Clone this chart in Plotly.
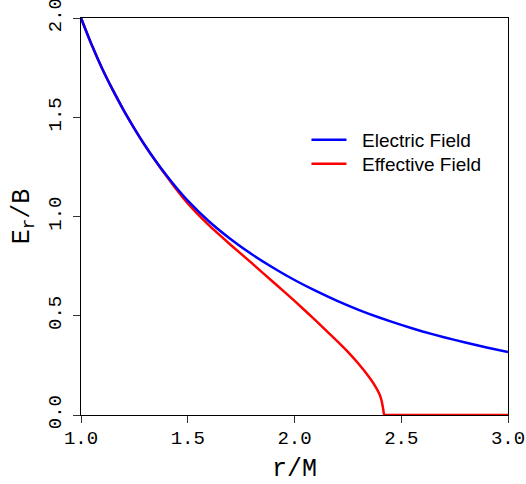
import plotly.graph_objects as go

# r/M sample positions and field values
r_electric = [1.0, 1.05, 1.1, 1.15, 1.2, 1.25, 1.3, 1.35, 1.4, 1.45, 1.5, 1.6, 1.7, 1.8,
              1.9, 2.0, 2.1, 2.2, 2.3, 2.4, 2.5, 2.6, 2.7, 2.8, 2.9, 3.0]
e_electric = [2.000, 1.865, 1.743, 1.635, 1.535, 1.443, 1.358, 1.280, 1.208, 1.141, 1.080,
              0.975, 0.887, 0.810, 0.742, 0.680, 0.625, 0.575, 0.530, 0.490, 0.454, 0.421,
              0.392, 0.365, 0.340, 0.317]

r_effective = [1.0, 1.05, 1.1, 1.15, 1.2, 1.25, 1.3, 1.35, 1.4, 1.45, 1.5, 1.6, 1.7, 1.8,
               1.9, 2.0, 2.1, 2.2, 2.25, 2.3, 2.35, 2.38, 2.40, 2.41, 2.415, 2.42, 2.425,
               2.45, 2.6, 3.0]
e_effective = [2.000, 1.865, 1.743, 1.635, 1.535, 1.443, 1.357, 1.278, 1.204, 1.132, 1.066,
               0.955, 0.858, 0.765, 0.670, 0.575, 0.475, 0.372, 0.318, 0.258, 0.190, 0.142,
               0.100, 0.062, 0.032, 0.0, 0.0, 0.0, 0.0, 0.0]

x_ticks = [1.0, 1.5, 2.0, 2.5, 3.0]
x_labels = ["1.0", "1.5", "2.0", "2.5", "3.0"]
y_ticks = [0.0, 0.5, 1.0, 1.5, 2.0]
y_labels = ["0.0", "0.5", "1.0", "1.5", "2.0"]

mono = "Liberation Mono"
legend_font = dict(family="Liberation Sans", size=19, color="black")

fig = go.Figure()
fig.add_trace(go.Scatter(x=r_effective, y=e_effective, mode="lines", name="  Effective Field",
                         legend="legend2",
                         line=dict(color="#ff0000", width=2.5, shape="spline", smoothing=0.4)))
fig.add_trace(go.Scatter(x=r_electric, y=e_electric, mode="lines", name="  Electric Field",
                         legend="legend",
                         line=dict(color="#0000ff", width=2.5, shape="spline", smoothing=0.5)))

axis_common = dict(ticks="outside", ticklen=7, tickcolor="#333", showline=True,
                   linecolor="black", linewidth=1, mirror=True, showgrid=False,
                   zeroline=False, automargin=False, ticklabeloverflow="allow",
                   tickfont=dict(family=mono, size=19, color="black"))

fig.update_layout(
    width=526, height=484,
    margin=dict(l=81, r=18, t=18, b=69),
    plot_bgcolor="white", paper_bgcolor="white",
    showlegend=True,
    legend=dict(x=0.528, y=0.7405, xanchor="left", yanchor="top", itemwidth=35,
                font=legend_font, bgcolor="rgba(0,0,0,0)"),
    legend2=dict(x=0.528, y=0.6801, xanchor="left", yanchor="top", itemwidth=35,
                 font=legend_font, bgcolor="rgba(0,0,0,0)"),
    xaxis=dict(range=[1, 3], tickvals=x_ticks, ticktext=x_labels, ticklabelstandoff=-2,
               title=dict(text="r/M", font=dict(family=mono, size=25, color="black")),
               **axis_common),
    yaxis=dict(range=[0, 2], tickvals=y_ticks, ticktext=y_labels, tickangle=-90,
               ticklabelstandoff=4,
               title=dict(text="E<sub>r</sub>/B", font=dict(family=mono, size=25, color="black"),
                          standoff=8),
               **axis_common),
)
fig.write_html("out.html", post_script="document.body.style.margin='0';",
               config={"displayModeBar": False})
